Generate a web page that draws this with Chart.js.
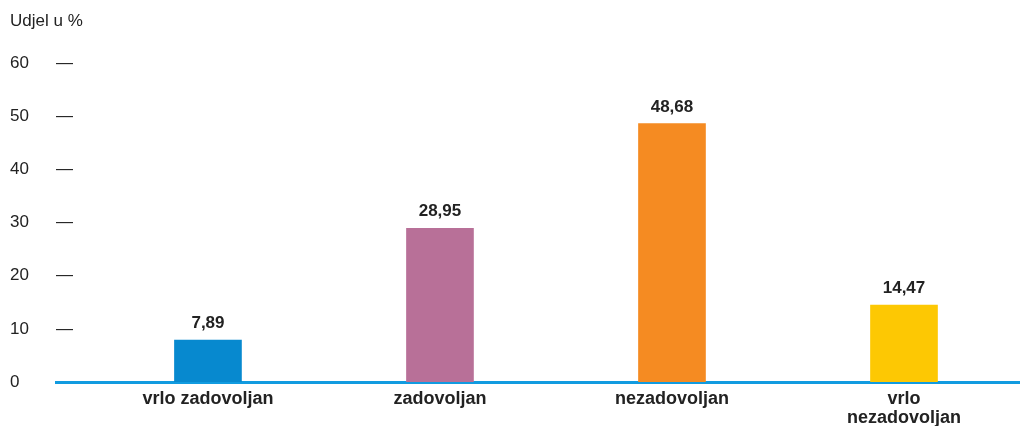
<!DOCTYPE html>
<html lang="hr">
<head>
  <meta charset="UTF-8">
  <title>Udjel u %</title>
  <script src="https://cdn.jsdelivr.net/npm/chart.js"></script>
  <style>
    body {
      margin: 0;
      background: #fff;
    }
    #wrap {
      width: 1020px;
      height: 426px;
    }
  </style>
</head>
<body>
  <div id="wrap">
    <canvas id="chart"></canvas>
  </div>

  <script>
    const categories = ["vrlo zadovoljan", "zadovoljan", "nezadovoljan", ["vrlo", "nezadovoljan"]];
    const shares = [7.89, 28.95, 48.68, 14.47];
    const barColors = ["#0789cf", "#b87098", "#f58b22", "#fdc803"];
    const yTicks = [0, 10, 20, 30, 40, 50, 60];

    const FONT = "'Liberation Sans', Arial, sans-serif";
    const INK = "#222";

    // broj s decimalnim zarezom iznad svakog stupca
    const valueLabels = {
      id: "valueLabels",
      afterDatasetsDraw(chart) {
        const ctx = chart.ctx;
        const meta = chart.getDatasetMeta(0);
        ctx.save();
        ctx.font = "bold 17px " + FONT;
        ctx.fillStyle = INK;
        ctx.textAlign = "center";
        ctx.textBaseline = "alphabetic";
        meta.data.forEach((bar, i) => {
          ctx.fillText(shares[i].toFixed(2).replace(".", ","), bar.x, bar.y - 12);
        });
        ctx.restore();
      }
    };

    new Chart(document.getElementById("chart"), {
      type: "bar",
      data: {
        datasets: [{
          data: shares.map((v, i) => ({ x: i, y: v })),
          backgroundColor: barColors,
          barThickness: 67
        }]
      },
      options: {
        responsive: true,
        maintainAspectRatio: false,
        animation: false,
        layout: { padding: { left: 10, right: 0, top: 0, bottom: 0 } },
        plugins: {
          legend: { display: false },
          tooltip: { enabled: false },
          title: {
            display: true,
            text: "Udjel u %",
            align: "start",
            color: INK,
            font: { family: FONT, size: 17, weight: "normal" },
            padding: { top: 11, bottom: 32 }
          }
        },
        scales: {
          x: {
            type: "linear",
            offset: false,
            min: -0.655,
            max: 3.5,
            afterBuildTicks: axis => {
              axis.ticks = categories.map((_, i) => ({ value: i }));
            },
            afterFit: axis => { axis.height = 44; },
            grid: { display: false, drawTicks: false, offset: false },
            border: { display: true, color: "#119be0", width: 3 },
            ticks: {
              autoSkip: false,
              maxRotation: 0,
              padding: 7,
              color: INK,
              font: { family: FONT, size: 18, weight: "bold", lineHeight: 1.08 },
              callback: v => categories[v]
            }
          },
          yd: {
            position: "left",
            weight: 0,
            min: 0,
            max: 60,
            afterBuildTicks: axis => {
              axis.ticks = yTicks.map(v => ({ value: v }));
            },
            grid: { display: false, drawTicks: false },
            border: { display: false },
            ticks: {
              mirror: true,
              padding: 0,
              color: INK,
              font: { family: FONT, size: 17 },
              callback: v => (v === 0 ? "" : "—")
            }
          },
          y: {
            position: "left",
            weight: 1,
            min: 0,
            max: 60,
            afterBuildTicks: axis => {
              axis.ticks = yTicks.map(v => ({ value: v }));
            },
            afterFit: axis => { axis.width = 46; },
            grid: { display: false, drawTicks: false },
            border: { display: false },
            ticks: {
              crossAlign: "far",
              color: INK,
              font: { family: FONT, size: 17 }
            }
          }
        }
      },
      plugins: [valueLabels]
    });
  </script>
</body>
</html>
